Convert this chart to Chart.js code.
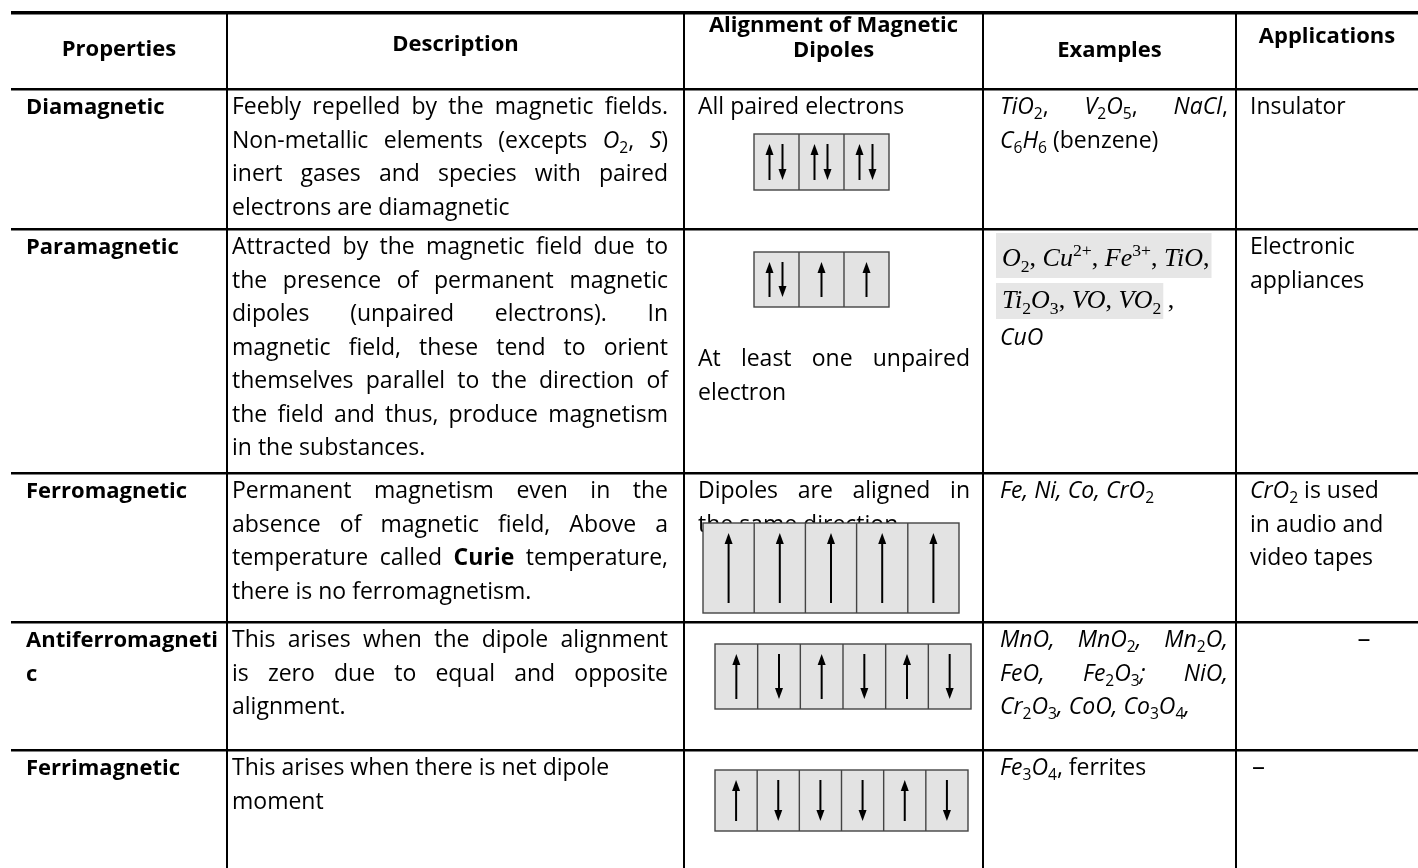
<!DOCTYPE html>
<html>
<head>
<meta charset="utf-8">
<script src="https://cdn.jsdelivr.net/npm/chart.js@4.4.1/dist/chart.umd.min.js"></script>
<style>
  html, body { margin: 0; padding: 0; background: #fff; }
  #wrap { width: 1418px; height: 868px; }
</style>
</head>
<body>
<div id="wrap"><canvas id="propsTable" width="1418" height="868"></canvas></div>
<script>
// Table contents (markup: *italic*, **bold**, _{sub}, ^{sup})
const headers = [['Properties'], ['Description'], ['Alignment of Magnetic', 'Dipoles'], ['Examples'], ['Applications']];
const properties = [['Diamagnetic'], ['Paramagnetic'], ['Ferromagnetic'], ['Antiferromagneti', 'c'], ['Ferrimagnetic']];
const descriptions = [
  ['Feebly repelled by the magnetic fields.', 'Non-metallic elements (excepts *O*_{2}, *S*)', 'inert gases and species with paired', 'electrons are diamagnetic'],
  ['Attracted by the magnetic field due to', 'the presence of permanent magnetic', 'dipoles (unpaired electrons). In', 'magnetic field, these tend to orient', 'themselves parallel to the direction of', 'the field and thus, produce magnetism', 'in the substances.'],
  ['Permanent magnetism even in the', 'absence of magnetic field, Above a', 'temperature called **Curie** temperature,', 'there is no ferromagnetism.'],
  ['This arises when the dipole alignment', 'is zero due to equal and opposite', 'alignment.'],
  ['This arises when there is net dipole', 'moment']
];
const alignmentNotes = [['All paired electrons'], ['At least one unpaired', 'electron'], ['Dipoles are aligned in', 'the same direction'], [], []];
// u = up, d = down, ud = paired
const dipoles = [
  ['ud', 'ud', 'ud'],
  ['ud', 'u', 'u'],
  ['u', 'u', 'u', 'u', 'u'],
  ['u', 'd', 'u', 'd', 'u', 'd'],
  ['u', 'd', 'd', 'd', 'u', 'd']
];
const examples = [
  ['*TiO*_{2}, *V*_{2}*O*_{5}, *NaCl*,', '*C*_{6}*H*_{6} (benzene)'],
  ['*O*_{2}, *Cu*^{2+}, *Fe*^{3+}, *TiO*,', '*Ti*_{2}*O*_{3}, *VO*, *VO*_{2} ,', '*CuO*'],
  ['*Fe, Ni, Co, CrO*_{2}'],
  ['*MnO, MnO*_{2}*, Mn*_{2}*O,*', '*FeO, Fe*_{2}*O*_{3}*; NiO,*', '*Cr*_{2}*O*_{3}*, CoO, Co*_{3}*O*_{4}*,*'],
  ['*Fe*_{3}*O*_{4}, ferrites']
];
const applications = [['Insulator'], ['Electronic', 'appliances'], ['*CrO*_{2} is used', 'in audio and', 'video tapes'], ['–'], ['–']];

// Layout (table units = pixels of the page)
const colEdges = [11, 227, 684, 983, 1236, 1418];
const rowEdges = [13, 89, 229, 473, 622, 750];
const bodyFont = '"Open Sans", "Noto Sans", sans-serif';
const mathFont = '"Liberation Serif", "Times New Roman", serif';
const lineH = 33.5;
const headerBaselines = [[56], [51], [32, 57], [57], [43]];
const dipoleBoxes = [
  [754, 889, 134, 190],
  [754, 889, 252, 307],
  [703, 959, 523, 613],
  [715, 971, 644, 709],
  [715, 968, 770, 831]
];
const notesStart = [114, 366, 498, 0, 0];
const highlightRows = [[233, 278, 266], [283, 319, 308]];

function parseRich(str) {
  const runs = [];
  let italic = false, bold = false, buf = '', i = 0;
  const flush = () => { if (buf) runs.push({ text: buf, italic, bold, mode: 'base' }); buf = ''; };
  while (i < str.length) {
    if (str.startsWith('**', i)) { flush(); bold = !bold; i += 2; continue; }
    if (str[i] === '*') { flush(); italic = !italic; i++; continue; }
    if ((str[i] === '_' || str[i] === '^') && str[i + 1] === '{') {
      flush();
      const end = str.indexOf('}', i);
      runs.push({ text: str.slice(i + 2, end), italic, bold, mode: str[i] === '_' ? 'sub' : 'sup' });
      i = end + 1;
      continue;
    }
    buf += str[i];
    i++;
  }
  flush();
  const pieces = [];
  runs.forEach(r => {
    if (r.mode !== 'base') { pieces.push(r); return; }
    r.text.split(/( )/).forEach(t => { if (t) pieces.push({ ...r, text: t, space: t === ' ' }); });
  });
  return pieces;
}

function fontOf(p, o) {
  const size = p.mode === 'base' ? o.size : o.size * 0.68;
  return (p.italic ? 'italic ' : '') + (p.bold || o.bold ? 'bold ' : '') + size + 'px ' + (o.family || bodyFont);
}

// draws one line, returns its natural width
function drawLine(ctx, str, x, baseline, o) {
  const ps = parseRich(str);
  ps.forEach(p => { ctx.font = fontOf(p, o); p.w = ctx.measureText(p.text).width; });
  const total = ps.reduce((s, p) => s + p.w, 0);
  if (o.measureOnly) return total;
  const nSpaces = ps.filter(p => p.space).length;
  const gap = o.justifyTo && nSpaces ? Math.max(0, (o.justifyTo - x - total) / nSpaces) : 0;
  let cx = o.align === 'center' ? x - total / 2 : x;
  ctx.fillStyle = '#000';
  ctx.textBaseline = 'alphabetic';
  ctx.textAlign = 'left';
  ps.forEach(p => {
    ctx.font = fontOf(p, o);
    let dy = 0;
    if (p.mode === 'sub') dy = o.size * 0.22;
    if (p.mode === 'sup') dy = -o.size * 0.4;
    ctx.fillText(p.text, cx, baseline + dy);
    cx += p.w + (p.space ? gap : 0);
  });
  return total;
}

function drawCell(ctx, lines, x, firstBase, o, justifyTo) {
  lines.forEach((ln, k) => {
    const last = k === lines.length - 1;
    drawLine(ctx, ln, x, firstBase + k * lineH, { ...o, justifyTo: !last && justifyTo ? justifyTo : null });
  });
}

function drawArrow(ctx, x, y1, y2, dir) {
  const tip = dir === 'u' ? y1 : y2;
  const tail = dir === 'u' ? y2 : y1;
  const s = dir === 'u' ? 1 : -1;
  ctx.strokeStyle = '#000';
  ctx.lineWidth = 2;
  ctx.beginPath();
  ctx.moveTo(x, tail);
  ctx.lineTo(x, tip + s * 6);
  ctx.stroke();
  ctx.fillStyle = '#000';
  ctx.beginPath();
  ctx.moveTo(x, tip);
  ctx.lineTo(x - 4, tip + s * 11);
  ctx.lineTo(x + 4, tip + s * 11);
  ctx.closePath();
  ctx.fill();
}

function drawDipoles(ctx, cells, l, r, t, b) {
  const w = (r - l) / cells.length;
  ctx.fillStyle = '#e3e3e3';
  ctx.fillRect(l, t, r - l, b - t);
  ctx.strokeStyle = '#444';
  ctx.lineWidth = 1.4;
  ctx.strokeRect(l, t, r - l, b - t);
  for (let i = 1; i < cells.length; i++) {
    ctx.beginPath();
    ctx.moveTo(l + w * i, t);
    ctx.lineTo(l + w * i, b);
    ctx.stroke();
  }
  cells.forEach((c, i) => {
    const cx = l + w * (i + 0.5);
    if (c === 'ud') {
      drawArrow(ctx, cx - 7, t + 10, b - 10, 'u');
      drawArrow(ctx, cx + 6, t + 10, b - 10, 'd');
    } else {
      drawArrow(ctx, cx, t + 10, b - 10, c);
    }
  });
}

const tablePlugin = {
  id: 'tableCells',
  afterDraw(chart) {
    const ctx = chart.ctx;
    const X = v => chart.scales.x.getPixelForValue(v);
    const Y = v => chart.scales.y.getPixelForValue(v);
    ctx.save();

    // header row
    headers.forEach((lines, c) => {
      const mid = (X(colEdges[c]) + X(colEdges[c + 1])) / 2;
      lines.forEach((ln, k) => drawLine(ctx, ln, mid, Y(headerBaselines[c][k]), { size: 22, bold: true, align: 'center' }));
    });

    properties.forEach((_, r) => {
      const top = rowEdges[r + 1];
      const base = Y(top + 25);

      drawCell(ctx, properties[r], X(colEdges[0] + 15), base, { size: 22, bold: true });
      drawCell(ctx, descriptions[r], X(colEdges[1] + 5), base, { size: 23 }, r < 4 ? X(colEdges[2] - 16) : null);

      // alignment column: notes then dipole box
      if (alignmentNotes[r].length) {
        drawCell(ctx, alignmentNotes[r], X(colEdges[2] + 14), Y(notesStart[r]), { size: 23 }, X(colEdges[3] - 13));
      }
      const bx = dipoleBoxes[r];
      drawDipoles(ctx, dipoles[r], X(bx[0]), X(bx[1]), Y(bx[2]), Y(bx[3]));

      // examples
      const ex = X(colEdges[3] + 19);
      if (r === 1) {
        highlightRows.forEach((h, k) => {
          const line = examples[r][k];
          const w = drawLine(ctx, line.replace(/ ,$/, ''), ex, 0, { size: 26, family: mathFont, measureOnly: true });
          ctx.fillStyle = '#e6e6e6';
          ctx.fillRect(ex - 6, Y(h[0]), w + 8, Y(h[1]) - Y(h[0]));
          drawLine(ctx, line, ex, Y(h[2]), { size: 26, family: mathFont });
        });
        drawLine(ctx, examples[r][2], X(colEdges[3] + 17), Y(345), { size: 23 });
      } else {
        drawCell(ctx, examples[r], X(colEdges[3] + 17), base, { size: 23 }, X(colEdges[4] - 8));
      }

      // applications
      if (r === 3) {
        drawLine(ctx, applications[r][0], X(1364), base, { size: 26, align: 'center' });
      } else if (r === 4) {
        drawLine(ctx, applications[r][0], X(colEdges[4] + 16), base, { size: 26 });
      } else {
        drawCell(ctx, applications[r], X(colEdges[4] + 14), base, { size: 23 });
      }
    });
    ctx.restore();
  }
};

new Chart(document.getElementById('propsTable'), {
  type: 'scatter',
  data: { datasets: [] },
  options: {
    responsive: false,
    animation: false,
    events: [],
    layout: { padding: { left: colEdges[0], top: rowEdges[0], right: 0, bottom: 0 } },
    plugins: { legend: { display: false }, tooltip: { enabled: false } },
    scales: {
      x: {
        type: 'linear', min: colEdges[0], max: 1418,
        ticks: { display: false }, border: { display: false },
        grid: { drawTicks: false, color: '#000', lineWidth: 2 },
        afterBuildTicks: axis => { axis.ticks = colEdges.slice(1, -1).map(v => ({ value: v })); }
      },
      y: {
        type: 'linear', reverse: true, min: rowEdges[0], max: 868,
        ticks: { display: false }, border: { display: false },
        grid: { drawTicks: false, color: '#000', lineWidth: c => (c.tick && c.tick.value === rowEdges[0] ? 3.5 : 2.5) },
        afterBuildTicks: axis => { axis.ticks = rowEdges.map(v => ({ value: v })); }
      }
    }
  },
  plugins: [tablePlugin]
});
</script>
</body>
</html>
